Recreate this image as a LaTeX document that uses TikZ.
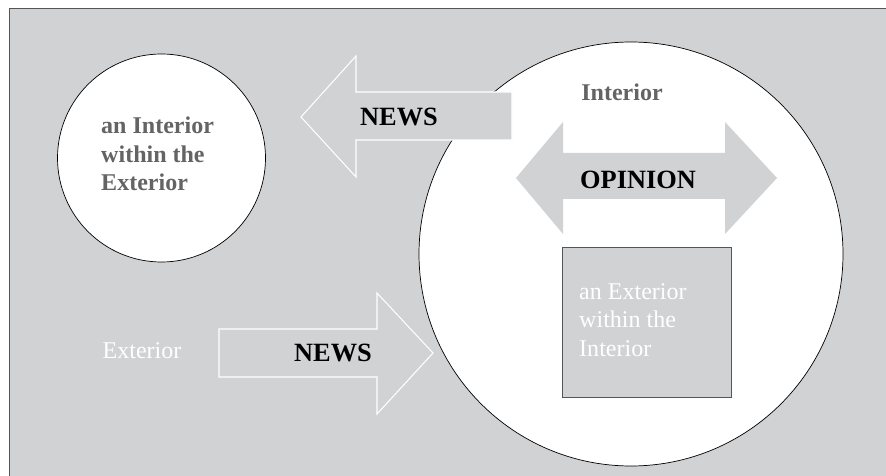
\documentclass[tikz,border=0pt]{standalone}
\usepackage{fontspec}
\setmainfont{Liberation Serif}
\usepackage{tikz}
\usetikzlibrary{calc}
\definecolor{bggray}{RGB}{209,210,212}
\definecolor{txtgray}{RGB}{100,100,100}
\definecolor{boxline}{RGB}{85,85,85}
\tikzset{label text/.style={inner sep=0pt, font=\fontsize{20.5}{24.5}\selectfont},
         big word/.style={label text, font=\fontsize{22.5}{26}\selectfont\bfseries, black},
         news arrow/.style={fill=bggray, draw=white, line width=0.9pt}}

\begin{document}
\begin{tikzpicture}[x=0.3mm, y=-0.3mm]
\useasboundingbox (0,0) rectangle (886,476);
\clip (0,0) rectangle (886,476);
\draw [fill=bggray, draw=boxline, line width=0.6pt] (9,8) rectangle (900,490);

\draw [fill=white, line width=0.6pt] (161.5,158) circle (104);
\draw [fill=white, line width=0.6pt] (631,254) circle (212);

% news going out
\draw [news arrow] (512,92) -- (356,92) -- (356,56) -- (301,117) -- (356,177)
  -- (356,140) -- (512,140) -- cycle;
\node [big word] (newsout) at (399,117) {NEWS};

% news coming in
\draw [news arrow] (219,329) -- (377,329) -- (377,293) -- (433,353) -- (377,414)
  -- (377,377) -- (219,377) -- cycle;
\node [big word] (newsin) at (333,353) {NEWS};

% opinion, both ways
\fill [bggray] (516,178) -- (563,122) -- (563,153) -- (725,153) -- (725,122)
  -- (777,178) -- (725,234) -- (725,199) -- (563,199) -- (563,234) -- cycle;
\node [big word] (opinion) at (638,180) {OPINION};

\draw [fill=bggray, draw=boxline, line width=0.8pt] (562,247) rectangle (731,397);

\node [label text, txtgray, font=\fontsize{20.5}{24.5}\selectfont\bfseries, align=left, anchor=west]
  (intext) at (101,154) {an Interior\\within the\\Exterior};
\node [label text, white, align=left, anchor=west]
  (extint) at (579,320) {an Exterior\\within the\\Interior};
\node [label text, txtgray, font=\fontsize{20.5}{24.5}\selectfont\bfseries] (interior) at (622,92) {Interior};
\node [label text, white] (exterior) at (142,351) {Exterior};

\end{tikzpicture}
\end{document}
